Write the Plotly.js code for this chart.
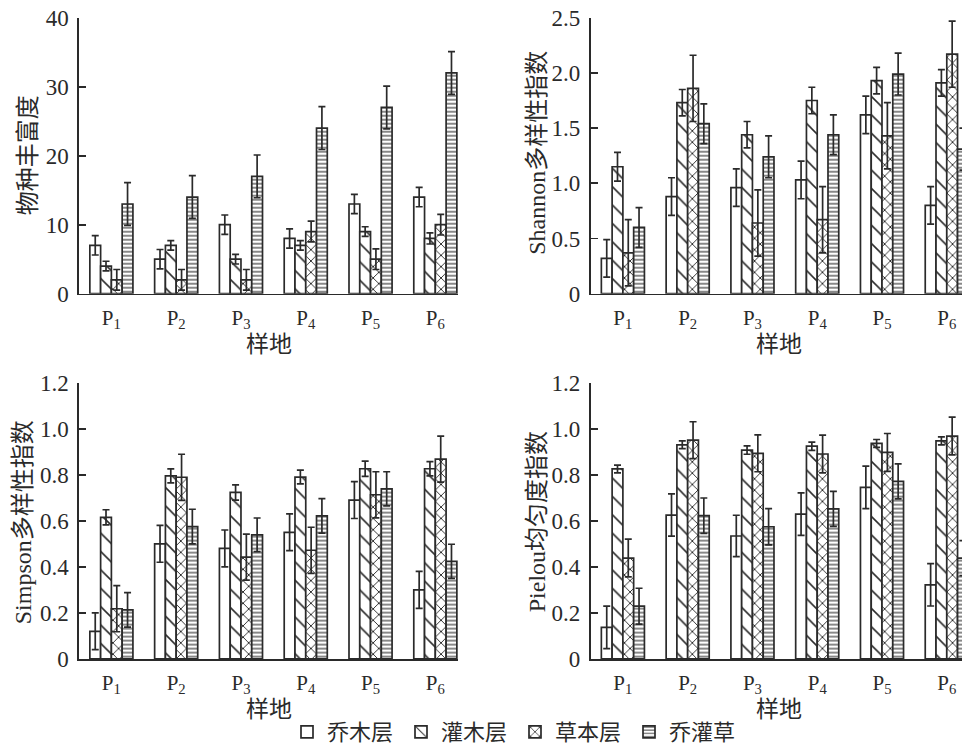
<!DOCTYPE html>
<html><head><meta charset="utf-8">
<script src="https://cdn.plot.ly/plotly-3.0.1.min.js"></script>
<style>html,body{margin:0;padding:0;background:#fff;overflow:hidden}</style>
</head><body><div id="chart" style="width:962px;height:753px"></div>
<script>
const sites = ['P1','P2','P3','P4','P5','P6'];
const siteLabels = ['P<sub>1</sub>','P<sub>2</sub>','P<sub>3</sub>','P<sub>4</sub>','P<sub>5</sub>','P<sub>6</sub>'];
const layers = ['乔木层','灌木层','草本层','乔灌草'];

// 物种丰富度
const richTree = [7,5,10,8,13,14];
const richTreeErr = [1.4,1.4,1.4,1.4,1.4,1.4];
const richShrub = [4,7,5,7,9,8];
const richShrubErr = [0.7,0.7,0.7,0.7,0.7,0.8];
const richHerb = [2,2,2,9,5,10];
const richHerbErr = [1.5,1.5,1.5,1.5,1.5,1.5];
const richAll = [13,14,17,24,27,32];
const richAllErr = [3.1,3.1,3.1,3.1,3.1,3.1];

// Shannon
const shanTree = [0.32,0.88,0.96,1.03,1.62,0.80];
const shanTreeErr = [0.17,0.17,0.17,0.17,0.17,0.17];
const shanShrub = [1.15,1.73,1.44,1.75,1.93,1.91];
const shanShrubErr = [0.13,0.12,0.12,0.12,0.12,0.12];
const shanHerb = [0.37,1.86,0.64,0.67,1.43,2.17];
const shanHerbErr = [0.30,0.30,0.30,0.30,0.30,0.30];
const shanAll = [0.60,1.54,1.24,1.44,1.99,1.31];
const shanAllErr = [0.18,0.18,0.19,0.18,0.19,0.19];

// Simpson
const simpTree = [0.12,0.50,0.48,0.55,0.69,0.30];
const simpTreeErr = [0.08,0.08,0.08,0.08,0.08,0.08];
const simpShrub = [0.615,0.795,0.723,0.79,0.826,0.826];
const simpShrubErr = [0.033,0.03,0.033,0.03,0.033,0.031];
const simpHerb = [0.218,0.789,0.442,0.472,0.713,0.868];
const simpHerbErr = [0.1,0.1,0.1,0.1,0.1,0.1];
const simpAll = [0.213,0.575,0.539,0.621,0.739,0.424];
const simpAllErr = [0.075,0.075,0.073,0.075,0.074,0.074];

// Pielou
const pielTree = [0.137,0.625,0.534,0.629,0.745,0.322];
const pielTreeErr = [0.092,0.092,0.09,0.092,0.092,0.092];
const pielShrub = [0.825,0.93,0.907,0.924,0.936,0.947];
const pielShrubErr = [0.017,0.017,0.018,0.018,0.017,0.017];
const pielHerb = [0.438,0.95,0.893,0.89,0.897,0.968];
const pielHerbErr = [0.082,0.08,0.08,0.082,0.082,0.082];
const pielAll = [0.229,0.622,0.574,0.652,0.771,0.438];
const pielAllErr = [0.078,0.077,0.079,0.076,0.076,0.076];

const yTicks1 = [0,10,20,30,40], yText1 = ['0','10','20','30','40'];
const yTicks2 = [0,0.5,1,1.5,2,2.5], yText2 = ['0','0.5','1.0','1.5','2.0','2.5'];
const yTicks3 = [0,0.2,0.4,0.6,0.8,1.0,1.2], yText3 = ['0','0.2','0.4','0.6','0.8','1.0','1.2'];

const FONT = 'Liberation Serif, "Noto Sans CJK SC", serif';
const INK = '#2a2a2a';
const patterns = [
  {shape:'', size:8, solidity:0.2},
  {shape:'\\', size:13, solidity:0.12},
  {shape:'x', size:8, solidity:0.22},
  {shape:'-', size:4, solidity:0.28}
];

function mk(vals, errs, k, xa, ya, show){
  const p = patterns[k];
  const pat = p.shape ? {shape:p.shape, size:p.size, solidity:p.solidity, fgcolor:INK, bgcolor:'#ffffff', fillmode:'replace'} : {shape:''};
  return {
    type:'bar', x:sites, y:vals, name:layers[k], legendgroup:layers[k], showlegend:show,
    xaxis:xa, yaxis:ya,
    marker:{color:'#ffffff', line:{color:INK, width:1.7}, pattern:pat},
    error_y:{type:'data', array:errs, visible:true, color:INK, thickness:1.7, width:3.5},
    hoverinfo:'y'
  };
}

const data = [
  mk(richTree, richTreeErr, 0, 'x', 'y', true),
  mk(richShrub, richShrubErr, 1, 'x', 'y', true),
  mk(richHerb, richHerbErr, 2, 'x', 'y', true),
  mk(richAll, richAllErr, 3, 'x', 'y', true),
  mk(shanTree, shanTreeErr, 0, 'x2', 'y2', false),
  mk(shanShrub, shanShrubErr, 1, 'x2', 'y2', false),
  mk(shanHerb, shanHerbErr, 2, 'x2', 'y2', false),
  mk(shanAll, shanAllErr, 3, 'x2', 'y2', false),
  mk(simpTree, simpTreeErr, 0, 'x3', 'y3', false),
  mk(simpShrub, simpShrubErr, 1, 'x3', 'y3', false),
  mk(simpHerb, simpHerbErr, 2, 'x3', 'y3', false),
  mk(simpAll, simpAllErr, 3, 'x3', 'y3', false),
  mk(pielTree, pielTreeErr, 0, 'x4', 'y4', false),
  mk(pielShrub, pielShrubErr, 1, 'x4', 'y4', false),
  mk(pielHerb, pielHerbErr, 2, 'x4', 'y4', false),
  mk(pielAll, pielAllErr, 3, 'x4', 'y4', false)
];

const W = 962, H = 753;
const leftDom = [79/W, 458/W];
const rightDom = [590.5/W, 1];
const topDom = [1-298/H, 1-18/H];
const botDom = [1-668.7/H, 1-388.3/H];

function xax(dom, anchor, range){
  return {domain:dom, anchor:anchor, type:'category', range:range,
    tickvals:sites, ticktext:siteLabels, ticks:'', showline:true, linecolor:INK, linewidth:1.7,
    showgrid:false, zeroline:false, tickfont:{family:FONT, size:21, color:INK}, ticklabelstandoff:4,
    automargin:false, fixedrange:true};
}
function yax(dom, anchor, range, tv, tt){
  return {domain:dom, anchor:anchor, range:range, tickvals:tv, ticktext:tt,
    ticks:'inside', ticklen:7, tickwidth:1.7, tickcolor:INK, showline:true, linecolor:INK, linewidth:1.7,
    showgrid:false, zeroline:false, tickfont:{family:FONT, size:23, color:INK}, ticklabelstandoff:4,
    automargin:false, fixedrange:true};
}

function ann(text, x, y, angle, size){
  return {text:text, x:x/W, y:1-y/H, xref:'paper', yref:'paper', showarrow:false,
    textangle:angle, xanchor:'center', yanchor:'middle', font:{family:FONT, size:size, color:INK}};
}

const layout = {
  width:W, height:H, margin:{l:0,r:0,t:0,b:0}, paper_bgcolor:'#fff', plot_bgcolor:'#fff',
  barmode:'group', bargap:0.335, bargroupgap:0,
  xaxis: xax(leftDom, 'y', [-0.5, 5.35]),
  yaxis: yax(topDom, 'x', [0,40], yTicks1, yText1),
  xaxis2: xax(rightDom, 'y2', [-0.5, 5.235]),
  yaxis2: yax(topDom, 'x2', [0,2.5], yTicks2, yText2),
  xaxis3: xax(leftDom, 'y3', [-0.5, 5.35]),
  yaxis3: yax(botDom, 'x3', [0,1.2], yTicks3, yText3),
  xaxis4: xax(rightDom, 'y4', [-0.5, 5.235]),
  yaxis4: yax(botDom, 'x4', [0,1.2], yTicks3, yText3),
  showlegend:true,
  legend:{orientation:'h', x:287/W, xanchor:'left', y:1-743/H, yanchor:'middle',
    font:{family:FONT, size:22, color:INK}, bgcolor:'rgba(0,0,0,0)', itemwidth:30,
    entrywidth:69, entrywidthmode:'pixels', traceorder:'normal'},
  annotations:[
    ann('物种丰富度', 27.5, 158, -90, 24),
    ann('Shannon多样性指数', 537, 155, -90, 24),
    ann('Simpson多样性指数', 23, 530, -90, 24),
    ann('Pielou均匀度指数', 537, 530, -90, 24),
    ann('样地', 268.5, 350, 0, 23),
    ann('样地', 779, 350, 0, 23),
    ann('样地', 268.5, 720, 0, 23),
    ann('样地', 779, 720, 0, 23)
  ]
};

Plotly.newPlot('chart', data, layout, {displayModeBar:false, staticPlot:true});
</script></body></html>
